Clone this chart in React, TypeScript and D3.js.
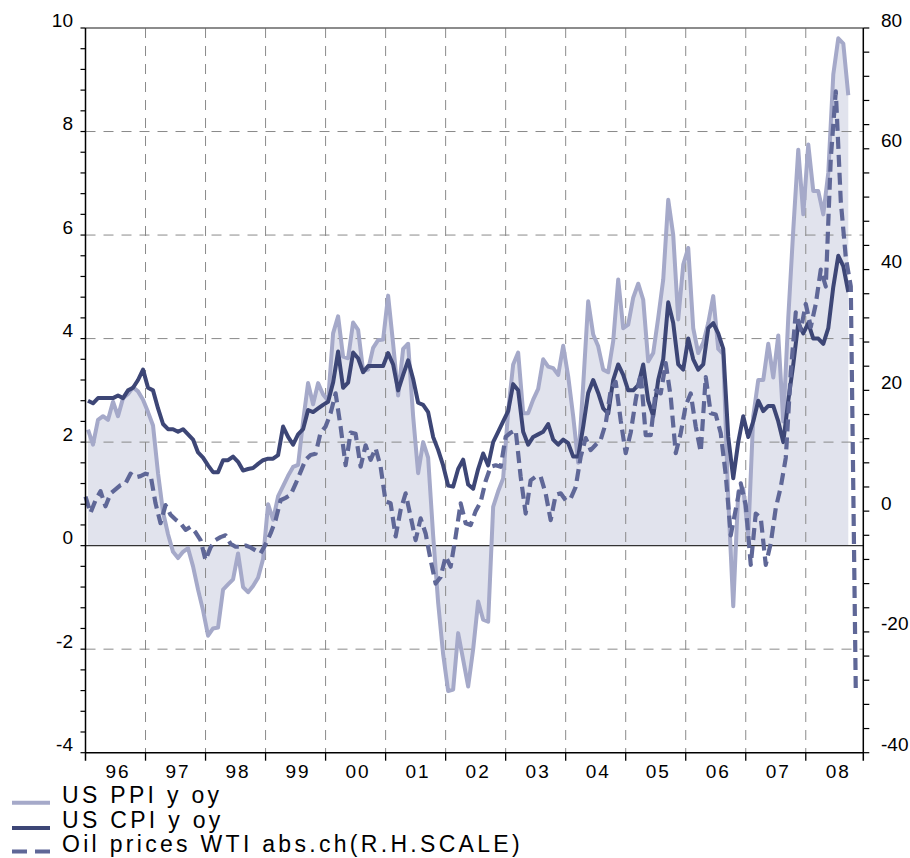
import React from "react";
import * as d3 from "d3";

// Monthly series, Jan 1996 onwards
const ppi: number[] = [
  2.24, 1.95, 2.43, 2.5, 2.43, 2.78, 2.5, 2.85, 2.93, 3.06, 2.98, 2.82,
  2.58, 2.32, 1.4, 0.65, 0.22, -0.12, -0.24, -0.12, -0.05, -0.4, -0.85, -1.25,
  -1.74, -1.6, -1.58, -0.85, -0.75, -0.65, -0.15, -0.8, -0.9, -0.78, -0.62, -0.26,
  0.8, 0.5, 0.95, 1.15, 1.35, 1.52, 1.56, 2.4, 3.14, 2.73, 3.14, 2.92,
  2.8, 4.1, 4.43, 3.65, 3.62, 4.31, 4.17, 3.38, 3.4, 3.82, 3.97, 3.98,
  4.83, 3.9, 2.9, 3.8, 3.9, 2.5, 1.4, 2.0, 1.7, 0.2, -1.1, -2.1,
  -2.81, -2.78, -1.69, -2.2, -2.72, -2.0, -1.08, -1.43, -1.47, 0.75, 1.05, 1.3,
  2.6, 3.5, 3.73, 2.56, 2.56, 2.82, 3.03, 3.6, 3.46, 3.43, 3.3, 3.86,
  3.27, 2.5, 1.6, 3.1, 4.72, 4.08, 3.85, 3.4, 3.35, 3.95, 5.14, 4.2,
  4.27, 4.79, 5.06, 4.75, 3.56, 3.72, 4.4, 5.14, 6.68, 6.0, 4.37, 5.43,
  5.75, 4.2, 3.72, 3.92, 4.3, 4.82, 3.8, 3.7, 0.9, -1.17, 1.04, 1.1,
  0.2, 2.5, 3.2, 3.2, 3.9, 3.25, 4.06, 2.4, 4.4, 6.1, 7.65, 6.4,
  7.75, 6.85, 6.85, 6.4, 7.2, 9.1, 9.8, 9.7, 8.7,
];

const cpi: number[] = [
  2.8, 2.75, 2.85, 2.85, 2.85, 2.85, 2.9, 2.85, 3.0, 3.05, 3.2, 3.4,
  3.05, 3.0, 2.65, 2.35, 2.25, 2.25, 2.2, 2.25, 2.15, 2.05, 1.8, 1.7,
  1.55, 1.42, 1.42, 1.65, 1.65, 1.72, 1.62, 1.45, 1.48, 1.5, 1.58, 1.65,
  1.68, 1.68, 1.75, 2.3, 2.1, 1.95, 2.15, 2.25, 2.62, 2.58, 2.65, 2.72,
  2.78, 3.15, 3.75, 3.05, 3.15, 3.73, 3.62, 3.35, 3.47, 3.47, 3.47, 3.47,
  3.72, 3.5, 3.0, 3.3, 3.58, 3.22, 2.76, 2.72, 2.58, 2.1, 1.85, 1.55,
  1.16, 1.14, 1.48, 1.66, 1.18, 1.1, 1.48, 1.78, 1.55, 2.0, 2.2, 2.4,
  2.6, 3.12, 3.0, 2.2, 1.95, 2.1, 2.15, 2.2, 2.35, 2.05, 1.95, 2.05,
  1.98, 1.72, 1.72, 2.3, 2.95, 3.2, 2.95, 2.65, 2.55, 3.2, 3.5, 3.3,
  3.0, 3.0, 3.1, 3.5, 2.8, 2.5, 3.2, 3.6, 4.7, 4.3, 3.5, 3.4,
  4.0, 3.6, 3.4, 3.5, 4.2, 4.3, 4.1, 3.8, 2.1, 1.3, 2.0, 2.5,
  2.1, 2.4, 2.8, 2.6, 2.7, 2.7, 2.4, 2.0, 2.8, 3.5, 4.3, 4.1,
  4.3, 4.0, 4.0, 3.9, 4.2, 5.0, 5.6, 5.4, 4.9,
];

// Oil prices WTI abs. change (right scale), month-start points
const oil: number[] = [
  2.4, -0.3, 1.8, 3.3, 0.8, 2.9, 3.6, 4.3, 4.6, 6.2, 5.6, 5.8,
  6.2, 6.0, 1.3, -2.0, 1.0, -0.6, -1.4, -2.0, -3.1, -2.6, -3.5, -4.8,
  -8.1, -6.0, -4.8, -4.3, -4.0, -5.4, -5.9, -5.9, -5.7, -6.0, -6.5, -7.0,
  -5.5, -3.7, -1.5, 1.8, 2.2, 2.7, 4.5, 6.5, 8.5, 9.3, 9.5, 13.0,
  14.0, 16.2, 19.5, 14.0, 7.6, 13.0, 12.8, 7.35, 10.9, 8.5, 10.4, 7.35,
  1.6, 1.3, -4.2, 0.2, 2.95, -0.9, -4.8, -1.2, -3.7, -8.1, -12.0, -10.9,
  -7.5, -9.2, -4.2, 1.3, -2.0, -2.3, 0.0, 1.5, 5.0, 7.35, 7.6, 7.35,
  12.3, 13.0, 13.4, 5.7, -0.4, 5.1, 5.7, 5.7, 2.9, -1.5, 2.7, 2.95,
  1.8, 2.1, 4.0, 9.0, 12.1, 10.1, 11.0, 11.8, 14.5, 20.0, 21.4, 15.0,
  9.6, 13.0, 18.4, 22.8, 12.6, 12.6, 20.0, 19.5, 24.5, 18.9, 9.6, 12.9,
  17.5, 19.5, 14.0, 9.8, 22.2, 16.2, 16.0, 12.9, 6.0, -4.0, 0.3, 4.6,
  1.0, -8.9, -0.4, -1.1, -8.9, -5.3, 0.5, 4.0, 8.8, 23.0, 32.9, 30.0,
  34.3, 30.5, 34.3, 40.0, 37.2, 58.4, 69.5, 51.3, 42.0, 37.2, -30.0,
];

const yearLabels = ["96", "97", "98", "99", "00", "01", "02", "03", "04", "05", "06", "07", "08"];
const leftTickLabels = [-4, -2, 0, 2, 4, 6, 8, 10];
const rightTickLabels = [-40, -20, 0, 20, 40, 60, 80];
const hGrid = [-2, 2, 4, 6, 8];
const legendLabels = ["US PPI y oy", "US CPI y oy", "Oil prices WTI abs.ch(R.H.SCALE)"];

const FONT = "'Liberation Sans', Arial, Helvetica, sans-serif";
const C_PPI = "#a5a9c9";
const C_FILL = "#e1e3ed";
const C_CPI = "#3d4676";
const C_OIL = "#5f6797";

export default function App() {
  const L = 85.5, R = 863.3, T = 28, B = 752.7;
  const x = d3.scaleLinear().domain([0, 155.5]).range([L, R]);
  const yL = d3.scaleLinear().domain([-4, 10]).range([B, T]);
  const yR = d3.scaleLinear().domain([-40, 80]).range([B, T]);

  const ppiLine = d3.line<number>().x((_, i) => x(i + 0.5)).y((d) => yL(d));
  const ppiArea = d3
    .area<number>()
    .x((_, i) => x(i + 0.5))
    .y0(yL(0))
    .y1((d) => yL(d));
  const cpiLine = d3.line<number>().x((_, i) => x(i + 0.5)).y((d) => yL(d));
  const oilLine = d3.line<number>().x((_, i) => x(i)).y((d) => yR(d));

  const leftMinor = d3.range(0, 36).map((k) => -4 + k * 0.4);
  const rightMinor = d3.range(0, 31).map((k) => -40 + k * 4);
  const yearBounds = d3.range(1, 13).map((k) => k * 12);
  const legendY = [803, 828, 852];

  return (
    <svg
      width={910}
      height={858}
      style={{ position: "absolute", left: 0, top: 0, background: "#fff" }}
      fontFamily={FONT}
    >
      <rect x={0} y={0} width={910} height={858} fill="#fff" />
      {/* PPI fill */}
      <path d={ppiArea(ppi) || ""} fill={C_FILL} stroke="none" />
      {/* vertical grid */}
      {yearBounds.map((m) => (
        <line
          key={"vg" + m}
          x1={x(m)}
          x2={x(m)}
          y1={T}
          y2={B}
          stroke="#8a8a8a"
          strokeWidth={1}
          strokeDasharray="10,8"
        />
      ))}
      {/* horizontal grid */}
      {hGrid.map((v) => (
        <line
          key={"hg" + v}
          x1={L}
          x2={R}
          y1={yL(v)}
          y2={yL(v)}
          stroke="#8a8a8a"
          strokeWidth={1}
          strokeDasharray="10,8"
        />
      ))}
      {/* zero line */}
      <line x1={L} x2={R} y1={yL(0)} y2={yL(0)} stroke="#333" strokeWidth={1.3} />
      {/* top border */}
      <line x1={L} x2={R} y1={T} y2={T} stroke="#666" strokeWidth={1.3} />

      {/* series */}
      <path d={ppiLine(ppi) || ""} fill="none" stroke={C_PPI} strokeWidth={4} strokeLinejoin="round" />
      <path d={cpiLine(cpi) || ""} fill="none" stroke={C_CPI} strokeWidth={4} strokeLinejoin="round" />
      <path
        d={oilLine(oil) || ""}
        fill="none"
        stroke={C_OIL}
        strokeWidth={4.2}
        strokeDasharray="12,6"
        strokeLinejoin="round"
      />

      {/* axes */}
      <line x1={L} x2={L} y1={T} y2={B + 8} stroke="#000" strokeWidth={1.5} />
      <line x1={R} x2={R} y1={T} y2={B + 8} stroke="#000" strokeWidth={1.5} />
      <line x1={L} x2={R} y1={B} y2={B} stroke="#000" strokeWidth={1.5} />
      {leftMinor.map((v) => (
        <line key={"lt" + v} x1={L - 5} x2={L} y1={yL(v)} y2={yL(v)} stroke="#000" strokeWidth={1.2} />
      ))}
      {rightMinor.map((v) => (
        <line key={"rt" + v} x1={R} x2={R + 6} y1={yR(v)} y2={yR(v)} stroke="#000" strokeWidth={1.2} />
      ))}
      {yearBounds.map((m) => (
        <line key={"bt" + m} x1={x(m)} x2={x(m)} y1={B} y2={B + 8} stroke="#000" strokeWidth={1.3} />
      ))}
      {leftTickLabels.map((v) => (
        <text
          key={"ll" + v}
          x={73}
          y={yL(v) - 1.5}
          textAnchor="end"
          fontSize={19}
          fill="#000"
        >
          {v}
        </text>
      ))}
      {rightTickLabels.map((v) => (
        <text key={"rl" + v} x={881} y={yR(v) - 1.5} textAnchor="start" fontSize={19} fill="#000">
          {v}
        </text>
      ))}
      {yearLabels.map((lab, k) => (
        <text
          key={"yl" + lab}
          x={x(k * 12 + 6) + 2.5}
          y={778}
          textAnchor="middle"
          fontSize={19}
          letterSpacing={2}
          fill="#000"
        >
          {lab}
        </text>
      ))}

      {/* legend */}
      <line x1={12} x2={50} y1={802.7} y2={802.7} stroke={C_PPI} strokeWidth={4} />
      <line x1={12} x2={50} y1={828} y2={828} stroke={C_CPI} strokeWidth={4} />
      <line x1={12} x2={50} y1={851.5} y2={851.5} stroke={C_OIL} strokeWidth={4.2} strokeDasharray="15,8" />
      {legendLabels.map((lab, k) => (
        <text
          key={"lg" + k}
          x={62}
          y={legendY[k]}
          fontSize={23}
          letterSpacing={3.3}
          fill="#000"
        >
          {lab}
        </text>
      ))}
    </svg>
  );
}
